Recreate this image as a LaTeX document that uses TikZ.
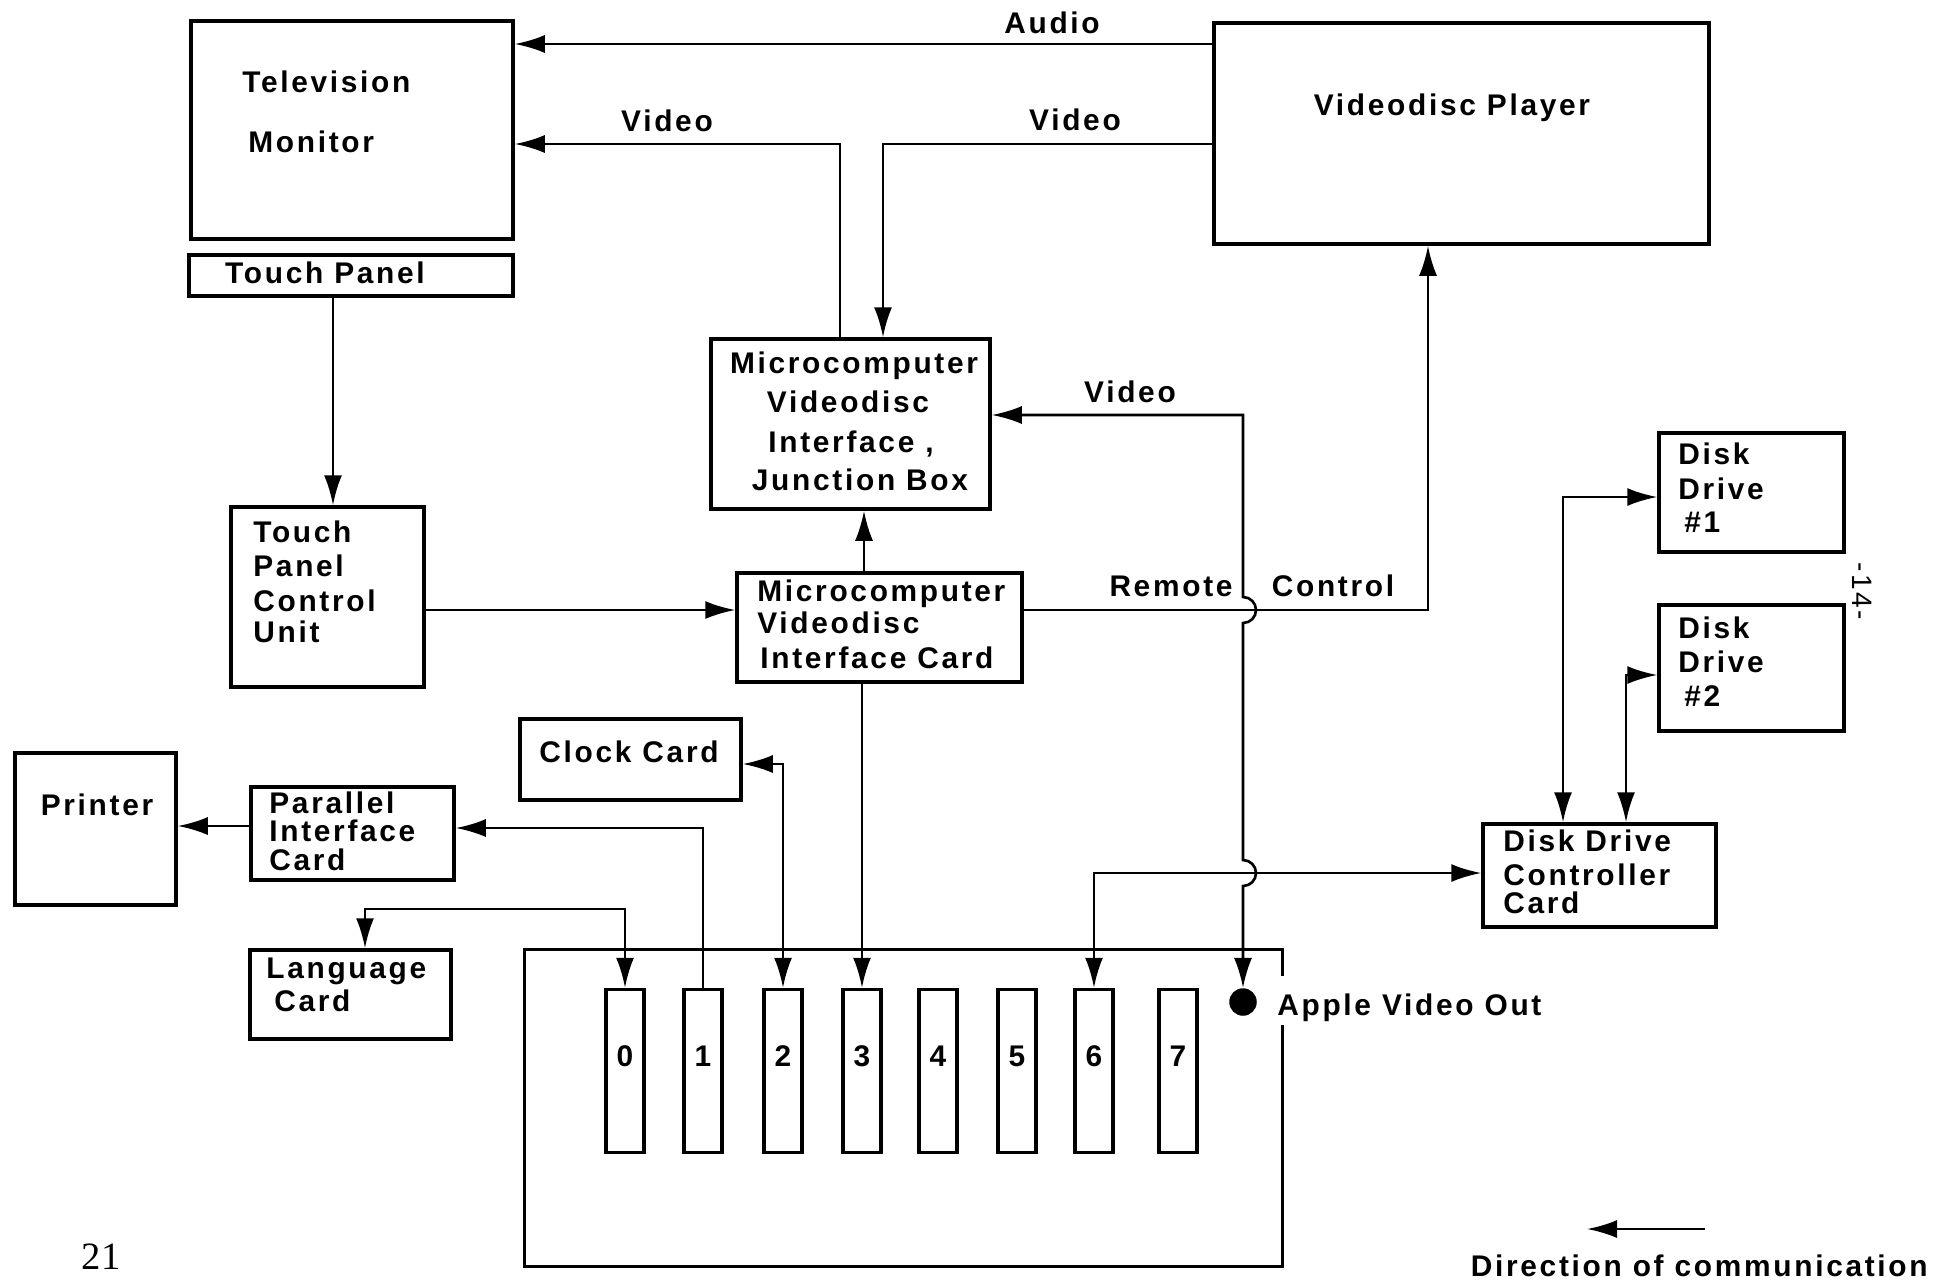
\documentclass[tikz,border=0pt]{standalone}
\usepackage{fontspec}
\setmainfont{Liberation Sans}[LetterSpace=9]
\newfontfamily\stampfont{Liberation Serif}
\usetikzlibrary{arrows.meta, fit}

\begin{document}
\begin{tikzpicture}[
  x=0.02cm, y=-0.02cm,
  >={Latex[length=6mm, width=3.6mm]},
  every node/.style={font=\fontsize{17}{20}\selectfont\bfseries},
  box/.style={draw, line width=2pt, inner sep=0pt},
  boxline/.style={line width=2pt},
  wire/.style={line width=1.5pt},
  lbl/.style={inner sep=0pt, text height=0.72em, text depth=0pt, yshift=-0.05cm},
  slotbox/.style={draw, line width=2pt, minimum width=0.76cm, minimum height=3.26cm, inner sep=0pt},
  jackdot/.style={circle, fill, inner sep=0pt, minimum size=0.55cm}
  ]

  \useasboundingbox (0,0) rectangle (1933,1285);

  % boxes
  \node[box, fit={(191,21) (513,239)}] (tv) {};
  \node[box, fit={(189,255) (513,296)}] (tp) {};
  \node[box, fit={(1214,23) (1709,244)}] (vdp) {};
  \node[box, fit={(711,339) (990,509)}] (jb) {};
  \node[box, fit={(231,507) (424,687)}] (tpcu) {};
  \node[box, fit={(737,573) (1022,682)}] (card) {};
  \node[box, fit={(520,719) (741,800)}] (clock) {};
  \node[box, fit={(15,753) (176,905)}] (printer) {};
  \node[box, fit={(251,787) (454,880)}] (pic) {};
  \node[box, fit={(250,950) (451,1039)}] (lc) {};
  \node[box, fit={(1483,824) (1716,927)}] (ddcc) {};
  \node[box, fit={(1659,433) (1844,552)}] (dd1) {};
  \node[box, fit={(1659,605) (1844,731)}] (dd2) {};
  \node[inner sep=0pt, fit={(525,950) (1282,1266)}] (mb) {};
  \draw[boxline] (mb.east |- 0,976) -- (mb.north east) -- (mb.north west)
    -- (mb.south west) -- (mb.south east) -- (mb.east |- 0,1025);

  \foreach \n/\x in {0/625,1/703,2/783,3/862,4/938,5/1017,6/1094,7/1178} {
    \node[slotbox] (s\n) at (\x,1071) {};
    \node[lbl] (n\n) at (\x,1058) {\n};
  }
  \node[jackdot] (avo) at (1243,1002) {};

  % texts
  \node[lbl, anchor=west] (tvA) at (242,84) {Television};
  \node[lbl, anchor=west] (tvB) at (248,144) {Monitor};
  \node[lbl] (tpA) at (325,275) {Touch Panel};
  \node[lbl] (vdpA) at (1452,107) {Videodisc Player};
  \node[lbl] (jbA) at (854,365) {Microcomputer};
  \node[lbl] (jbB) at (848,404) {Videodisc};
  \node[lbl] (jbC) at (851,444) {Interface ,};
  \node[lbl] (jbD) at (860,482) {Junction Box};
  \node[lbl, anchor=west] (tpcuA) at (253,534) {Touch};
  \node[lbl, anchor=west] (tpcuB) at (253,568) {Panel};
  \node[lbl, anchor=west] (tpcuC) at (253,603) {Control};
  \node[lbl, anchor=west] (tpcuD) at (253,634) {Unit};
  \node[lbl, anchor=west] (cardA) at (757,593) {Microcomputer};
  \node[lbl, anchor=west] (cardB) at (757,625) {Videodisc};
  \node[lbl, anchor=west] (cardC) at (760,660) {Interface Card};
  \node[lbl] (clockA) at (629,754) {Clock Card};
  \node[lbl] (printerA) at (97,807) {Printer};
  \node[lbl, anchor=west] (picA) at (269,805) {Parallel};
  \node[lbl, anchor=west] (picB) at (269,833) {Interface};
  \node[lbl, anchor=west] (picC) at (269,862) {Card};
  \node[lbl, anchor=west] (lcA) at (266,970) {Language};
  \node[lbl, anchor=west] (lcB) at (274,1003) {Card};
  \node[lbl, anchor=west] (ddccA) at (1503,843) {Disk Drive};
  \node[lbl, anchor=west] (ddccB) at (1503,877) {Controller};
  \node[lbl, anchor=west] (ddccC) at (1503,905) {Card};
  \node[lbl, anchor=west] (dd1A) at (1678,456) {Disk};
  \node[lbl, anchor=west] (dd1B) at (1678,491) {Drive};
  \node[lbl, anchor=west] (dd1C) at (1684,524) {\#1};
  \node[lbl, anchor=west] (dd2A) at (1678,630) {Disk};
  \node[lbl, anchor=west] (dd2B) at (1678,664) {Drive};
  \node[lbl, anchor=west] (dd2C) at (1684,698) {\#2};
  \node[lbl, anchor=west] (avoA) at (1277,1007) {Apple Video Out};
  \node[lbl] (audio) at (1052,25) {Audio};
  \node[lbl] (vidtv) at (667,123) {Video};
  \node[lbl] (vidvdp) at (1075,122) {Video};
  \node[lbl] (vidjb) at (1130,394) {Video};
  \node[lbl] (remote) at (1171,588) {Remote};
  \node[lbl] (control) at (1333,588) {Control};
  \node[lbl, rotate=-90, font=\fontsize{16}{19}\selectfont] (pageno) at (1859,589) {-14-};
  \node[font=\stampfont\fontsize{22}{24}\selectfont] (sheet) at (101,1257) {21};
  \node[lbl, anchor=east] (dirtext) at (1928,1268) {Direction of communication};

  % connections
  \draw[wire, ->] (vdp.west |- 0,44) -- (tv.east |- 0,44);
  \draw[wire, ->] (jb.north -| 840,0) |- (tv.east |- 0,144);
  \draw[wire, ->] (vdp.west |- 0,144) -| (jb.north -| 883,0);
  \draw[wire, ->] (tp.south -| 333,0) -- (tpcu.north -| 333,0);
  \draw[wire, ->] (tpcu.east |- 0,610) -- (card.west |- 0,610);
  \draw[wire, ->] (card.north -| 864,0) -- (jb.south -| 864,0);
  \draw[wire, ->] (card.east |- 0,610) -| (vdp.south -| 1428,0);
  \draw[wire, <->] (jb.east |- 0,415) -- (1243,415) -- (1243,597)
    arc[start angle=90, end angle=-90, radius=0.26cm] -- (1243,860)
    arc[start angle=90, end angle=-90, radius=0.26cm] -- (avo.north);
  \draw[wire, ->] (card.south -| s3.north) -- (s3.north);
  \draw[wire, <->] (clock.east |- 0,764) -| (s2.north);
  \draw[wire, ->] (s1.north) |- (pic.east |- 0,828);
  \draw[wire, ->] (pic.west |- 0,826) -- (printer.east |- 0,826);
  \draw[wire, <->] (lc.north -| 365,0) |- (s0.north |- 0,909) -- (s0.north);
  \draw[wire, <->] (s6.north) |- (ddcc.west |- 0,873);
  \draw[wire, <->] (ddcc.north -| 1563,0) |- (dd1.west |- 0,497);
  \draw[wire, <->] (ddcc.north -| 1626,0) |- (dd2.west |- 0,675);

  \coordinate (dirtail) at (1705,1229);
  \coordinate (dirtip) at (1587,1229);
  \draw[wire, ->] (dirtail) -- (dirtip);

\end{tikzpicture}
\end{document}
